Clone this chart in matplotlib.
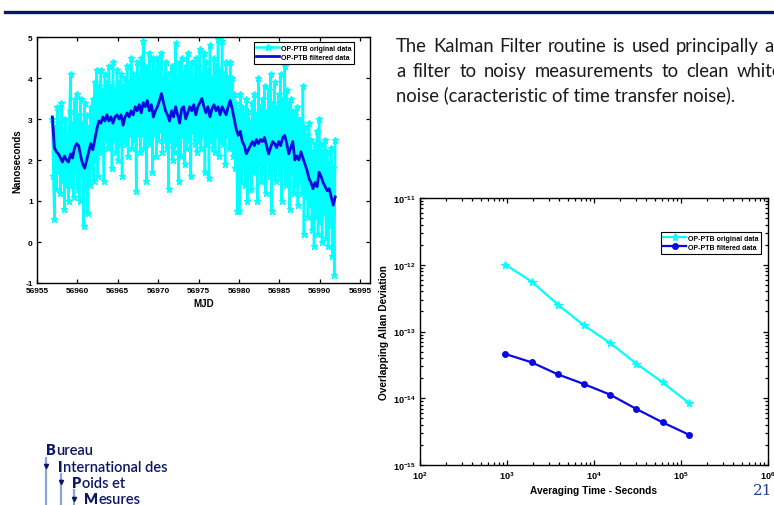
import numpy as np
import matplotlib
matplotlib.use("Agg")
import matplotlib.pyplot as plt
from matplotlib.lines import Line2D
from matplotlib.ticker import LogLocator, NullFormatter, FuncFormatter

# ------------------------------------------------------------------ data
mjd_start = 56956.9
raw_step = 0.125          # days between original samples
raw_ns = [
    3.0, 1.6, 0.55, 2.8, 1.3, 3.3, 1.7, 2.9,
    1.2, 3.4, 1.5, 2.7, 0.8, 3.0, 1.4, 2.6,
    1.0, 3.2, 4.1, 1.4, 2.9, 1.1, 3.5, 1.7,
    3.6, 1.3, 3.1, 1.0, 3.5, 1.6, 2.9, 0.4,
    3.4, 1.3, 3.1, 0.7, 2.8, 1.4, 3.3, 1.8,
    3.5, 1.5, 3.9, 2.0, 4.2, 1.6, 3.8, 2.3,
    4.2, 2.2, 3.7, 1.5, 4.1, 2.5, 3.9, 2.3,
    4.3, 2.4, 3.8, 1.8, 4.4, 2.5, 3.7, 2.2,
    4.2, 2.0, 3.9, 2.4, 4.1, 1.6, 3.8, 2.5,
    4.0, 2.4, 4.3, 2.1, 3.9, 2.6, 4.5, 2.3,
    4.1, 2.5, 3.9, 1.25, 4.4, 2.6, 4.0, 2.2,
    4.5, 2.6, 4.9, 2.3, 4.3, 1.5, 4.2, 2.5,
    4.6, 2.4, 4.1, 1.7, 4.5, 2.6, 4.2, 2.1,
    4.5, 2.5, 4.3, 2.7, 4.6, 2.2, 4.0, 2.5,
    4.4, 2.3, 4.1, 1.3, 3.9, 2.5, 4.3, 2.0,
    4.2, 2.2, 4.85, 2.4, 4.0, 1.5, 4.4, 2.1,
    4.5, 2.6, 4.1, 1.9, 4.3, 2.3, 4.6, 2.5,
    4.2, 1.6, 4.4, 2.7, 4.0, 2.4, 4.5, 2.2,
    4.3, 2.5, 4.7, 2.3, 4.1, 2.6, 4.6, 1.7,
    4.4, 2.4, 4.2, 1.55, 4.8, 2.5, 4.0, 2.3,
    4.5, 2.2, 4.3, 2.6, 4.95, 2.1, 4.2, 2.5,
    4.9, 2.4, 4.1, 1.9, 4.4, 2.6, 4.0, 2.3,
    4.4, 2.4, 4.0, 2.1, 3.6, 1.8, 3.4, 0.75,
    3.2, 0.75, 3.6, 1.5, 3.3, 1.9, 3.1, 1.4,
    3.5, 1.0, 3.2, 1.6, 2.9, 1.3, 3.4, 1.7,
    3.6, 1.8, 3.1, 1.0, 4.0, 1.9, 3.3, 1.5,
    3.5, 1.7, 3.8, 1.2, 3.2, 2.0, 3.7, 1.6,
    4.1, 0.75, 3.4, 1.8, 3.9, 1.5, 3.3, 1.9,
    3.6, 1.6, 4.1, 1.0, 3.5, 1.9, 4.3, 1.4,
    3.7, 1.5, 3.4, 0.8, 3.5, 1.7, 3.2, 1.2,
    3.1, 1.4, 3.3, 0.9, 3.0, 1.5, 2.9, 1.2,
    3.8, 0.2, 2.8, 1.1, 2.6, 0.6, 2.9, 0.9,
    2.5, 0.3, 2.2, -0.1, 2.4, 0.6, 2.7, 0.2,
    3.0, 0.5, 2.4, 0.0, 2.2, 0.7, 2.5, 0.1,
    2.2, -0.1, 1.9, 0.4, 2.3, -0.35, 1.8, -0.8,
    2.5,
]
filt_step = 0.25          # days between filtered samples
filt_ns = [
    3.05, 2.3, 2.2, 2.15, 2.05, 1.95, 2.1, 2.0, 1.95, 2.15,
    2.05, 2.3, 2.4, 2.35, 2.1, 1.9, 1.8, 2.0, 2.2, 2.4,
    2.25, 2.5, 2.75, 2.95, 2.9, 3.05, 2.95, 3.1, 2.95, 3.05,
    2.9, 3.05, 3.1, 3.0, 3.1, 2.85, 3.05, 3.15, 3.05, 3.2,
    3.1, 3.3, 3.2, 3.35, 3.15, 3.4, 3.3, 3.45, 3.2, 3.35,
    3.05, 3.2, 3.3, 3.45, 3.62, 3.4, 3.2, 3.1, 2.95, 3.2,
    3.05, 3.3, 3.1, 2.9, 3.25, 3.3, 3.0, 3.15, 3.3, 3.2,
    3.35, 3.1, 3.3, 3.4, 3.5, 3.3, 3.15, 3.3, 3.05, 3.25,
    3.35, 3.2, 3.3, 3.1, 3.3, 3.2, 3.1, 3.3, 3.45, 3.25,
    3.0, 2.75, 2.6, 2.7, 2.45, 2.35, 2.15, 2.25, 2.35, 2.45,
    2.35, 2.5, 2.4, 2.5, 2.45, 2.55, 2.35, 2.15, 2.3, 2.45,
    2.4, 2.3, 2.45, 2.35, 2.55, 2.6, 2.4, 2.15, 2.3, 2.45,
    2.0, 2.1, 2.0, 2.2, 2.05, 1.9, 1.75, 1.55, 1.45, 1.3,
    1.45, 1.35, 1.7, 1.6, 1.45, 1.35, 1.25, 1.3, 1.1, 0.9,
    1.1,
]
mjd_ticks = [56955, 56960, 56965, 56970, 56975, 56980, 56985, 56990, 56995]
mjd_limits = (56955, 56996.2)
ns_ticks = [-1, 0, 1, 2, 3, 4, 5]

tau_s = [960, 1920, 3840, 7680, 15360, 30720, 61440, 122880]
adev_original = [1.0e-12, 5.6e-13, 2.53e-13, 1.23e-13, 6.7e-14, 3.3e-14, 1.73e-14, 8.5e-15]
adev_filtered = [4.6e-14, 3.45e-14, 2.28e-14, 1.63e-14, 1.13e-14, 6.9e-15, 4.35e-15, 2.85e-15]

legend_labels = ["OP-PTB original data", "OP-PTB filtered data"]
body_lines = [
    "The Kalman Filter routine is used principally as",
    "a filter to noisy measurements to clean white",
    "noise (caracteristic of time transfer noise).",
]
logo_lines = ["Bureau", "International des", "Poids et", "Mesures"]
page_number = "21"

# ------------------------------------------------------------------ style
plt.rcParams["font.family"] = ["Liberation Sans", "DejaVu Sans"]
plt.rcParams["font.weight"] = "bold"
plt.rcParams["mathtext.fontset"] = "custom"
plt.rcParams["mathtext.rm"] = "Liberation Sans:bold"
plt.rcParams["mathtext.bf"] = "Liberation Sans:bold"
plt.rcParams["mathtext.it"] = "Liberation Sans:bold"
plt.rcParams["axes.linewidth"] = 1.0

CYAN = "#00ffff"
BLUE = "#0a0ae0"
NAVY = "#0b1763"

W, H = 774, 506
fig = plt.figure(figsize=(W / 100, H / 100), dpi=100)
fig.patch.set_facecolor("white")


def fx(px):
    return px / W


def fy(py):
    return 1 - py / H


def bold_ticks(ax, size):
    for lab in ax.get_xticklabels() + ax.get_yticklabels():
        lab.set_fontweight("bold")
        lab.set_fontsize(size)


# top rule
fig.add_artist(Line2D([fx(5), 1.0], [fy(13), fy(13)], color=NAVY, lw=2.4))

# ------------------------------------------------------------------ left chart
ax1 = fig.add_axes([fx(37), fy(284), fx(370) - fx(37), fy(38) - fy(284)])
t_raw = mjd_start + raw_step * np.arange(len(raw_ns))
t_filt = mjd_start + filt_step * np.arange(len(filt_ns))
ax1.plot(t_raw, raw_ns, color=CYAN, lw=1.8, marker="*", ms=4.5,
         label=legend_labels[0])
ax1.plot(t_filt, filt_ns, color=BLUE, lw=2.0, label=legend_labels[1])
ax1.set_xlim(*mjd_limits)
ax1.set_ylim(ns_ticks[0], ns_ticks[-1])
ax1.set_xticks(mjd_ticks)
ax1.set_yticks(ns_ticks)
ax1.xaxis.set_major_formatter(FuncFormatter(lambda v, p: "%d" % round(v)))
ax1.yaxis.set_major_formatter(FuncFormatter(lambda v, p: "%d" % round(v)))
ax1.tick_params(direction="in", top=True, right=True, labelsize=6,
                length=3, width=0.9, pad=3)
bold_ticks(ax1, 6)
ax1.set_xlabel("MJD", fontsize=7, fontweight="bold", labelpad=3)
ax1.set_ylabel("Nanoseconds", fontsize=7, fontweight="bold", labelpad=2)
leg1 = ax1.legend(loc="upper right", bbox_to_anchor=(0.952, 0.98),
                  prop={"size": 5, "weight": "bold"}, frameon=True,
                  fancybox=False, framealpha=1, edgecolor="black",
                  handlelength=3.3, numpoints=1, borderpad=0.4,
                  labelspacing=0.3, handletextpad=0.2, borderaxespad=0)
leg1.get_frame().set_linewidth(0.8)

# ------------------------------------------------------------------ right chart
ax2 = fig.add_axes([fx(420), fy(466), fx(768) - fx(420), fy(199) - fy(466)])
ax2.loglog(tau_s, adev_original, color=CYAN, lw=1.6, marker="*", ms=5.5,
           label=legend_labels[0])
ax2.loglog(tau_s, adev_filtered, color=BLUE, lw=1.6, marker="o", ms=4,
           label=legend_labels[1])
ax2.set_xlim(1e2, 1e6)
ax2.set_ylim(1e-15, 1e-11)
pow_fmt = FuncFormatter(lambda v, p: r"$\mathbf{10^{%d}}$" % round(np.log10(v)))
for axis in (ax2.xaxis, ax2.yaxis):
    axis.set_major_locator(LogLocator(base=10, numticks=10))
    axis.set_minor_locator(LogLocator(base=10, subs=np.arange(2, 10), numticks=10))
    axis.set_major_formatter(pow_fmt)
    axis.set_minor_formatter(NullFormatter())
ax2.tick_params(which="both", direction="in", top=True, right=True,
                labelsize=6.6, width=0.9, pad=3)
ax2.tick_params(which="major", length=3.5)
ax2.tick_params(which="minor", length=2)
ax2.set_xlabel("Averaging Time - Seconds", fontsize=7.3, fontweight="bold",
               labelpad=3)
ax2.set_ylabel("Overlapping Allan Deviation", fontsize=7.3, fontweight="bold",
               labelpad=3)
leg2 = ax2.legend(loc="upper right", bbox_to_anchor=(0.98, 0.873),
                  prop={"size": 5, "weight": "bold"}, frameon=True,
                  fancybox=False, framealpha=1, edgecolor="black",
                  handlelength=3.3, numpoints=1, borderpad=0.4,
                  labelspacing=0.3, handletextpad=0.2, borderaxespad=0)
leg2.get_frame().set_linewidth(0.8)

# ------------------------------------------------------------------ slide text
renderer = fig.canvas.get_renderer()
BODY_FONT = ["Lato", "DejaVu Sans"]

probe = fig.text(0, 0, body_lines[2], fontsize=12, family=BODY_FONT,
                 fontweight="normal")
w_probe = probe.get_window_extent(renderer).width
probe.remove()
body_fs = 12 * 339 / w_probe

x_left, x_right = 396, 782
baselines = [52, 77, 101]
for i, line in enumerate(body_lines):
    if i < 2:
        words = line.split(" ")
        arts = [fig.text(0, fy(baselines[i]), w, fontsize=body_fs,
                         family=BODY_FONT, fontweight="normal",
                         color="#1a1a1a", va="baseline") for w in words]
        widths = [a.get_window_extent(renderer).width for a in arts]
        gap = (x_right - x_left - sum(widths)) / (len(words) - 1)
        x = x_left
        for a, wd in zip(arts, widths):
            a.set_x(fx(x))
            x += wd + gap
    else:
        fig.text(fx(x_left), fy(baselines[i]), line, fontsize=body_fs,
                 family=BODY_FONT, fontweight="normal", color="#1a1a1a",
                 va="baseline")

# logo
LOGO_BLUE = "#8aa4cf"
logo_x = [46, 58, 72, 84]
logo_base = [455, 472, 488, 504]
for txt, lx, lb in zip(logo_lines, logo_x, logo_base):
    init = fig.text(fx(lx), fy(lb), txt[0], fontsize=10.5, family=["Lato"],
                    fontweight="heavy", color=NAVY, va="baseline")
    wi = init.get_window_extent(renderer).width
    fig.text(fx(lx + wi + 0.5), fy(lb), txt[1:], fontsize=10.5,
             family=["Lato"], fontweight="semibold", color=NAVY, va="baseline")

for vx, vtop, mark_y in [(46, 459, 467), (61, 475, 483), (74, 491, 500)]:
    fig.add_artist(Line2D([fx(vx), fx(vx)], [fy(vtop), 0], color=LOGO_BLUE, lw=1.6))
    fig.add_artist(Line2D([fx(vx)], [fy(mark_y)], color=NAVY, marker="v", ms=3,
                          lw=0))

fig.text(fx(772), fy(495), page_number, fontsize=11, family=["DejaVu Serif"],
         fontweight="normal", color="#1f3c8f", ha="right", va="baseline")

fig.savefig("out.png", dpi=100, facecolor="white")
